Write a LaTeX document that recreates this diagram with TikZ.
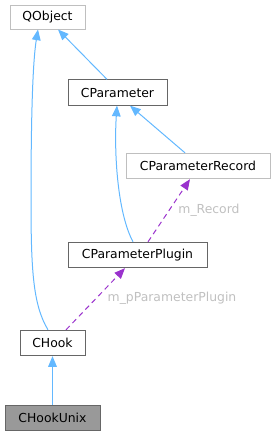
\documentclass[tikz,border=0pt]{standalone}
\usepackage{fontspec}
\setmainfont{DejaVu Sans}
\usetikzlibrary{arrows.meta,calc}
\definecolor{edgeblue}{HTML}{63B8FF}
\definecolor{edgepurple}{HTML}{9A32CD}
\definecolor{lightborder}{HTML}{BFBFBF}
\definecolor{darkborder}{HTML}{666666}
\definecolor{labelgray}{HTML}{C0C0C0}
\definecolor{fillgray}{HTML}{999999}
\begin{document}
\begin{tikzpicture}[x=0.75pt,y=-0.75pt,
  every node/.style={font=\fontsize{9.3}{11}\selectfont},
  cls/.style={draw=darkborder,line width=0.75pt,inner sep=0pt,minimum height=19pt,fill=white},
  extcls/.style={cls,draw=lightborder},
  curcls/.style={cls,fill=fillgray},
  inh/.style={draw=edgeblue,line width=0.75pt,-{Triangle[length=8pt,width=6.5pt]}},
  usage/.style={draw=edgepurple,line width=0.75pt,dashed,dash pattern=on 4pt off 3pt,-{Triangle[length=8pt,width=6.5pt]}},
  lbl/.style={text=labelgray}]
\useasboundingbox (0,0) rectangle (275,436);
\node[extcls,minimum width=56.25pt,minimum height=18pt] (qobject) at (47.5,17) {QObject};
\node[cls,minimum width=74.25pt] (cparam) at (117.5,92.5) {CParameter};
\node[extcls,minimum width=108pt] (crec) at (198,166) {CParameterRecord};
\node[cls,minimum width=104.25pt] (cplug) at (137.5,255) {CParameterPlugin};
\node[cls,minimum width=48.75pt] (chook) at (52.5,343) {CHook};
\node[curcls,minimum width=71.25pt] (chookunix) at (52.5,418) {CHookUnix};
% edges
\draw[inh] ($(cparam.north)+(-10.5,0)$) -- ($(qobject.south)+(10.5,0)$);
\draw[inh] ($(chook.north)+(-4.5,0)$) .. controls (33,305) and (31,270) .. (31,200)
  .. controls (31,110) and (33,60) .. ($(qobject.south)+(-9.5,0)$);
\draw[inh] ($(crec.north)+(-13,0)$) -- ($(cparam.south)+(12.5,0)$);
\draw[inh] ($(cplug.north)+(-4.5,0)$) .. controls (117,212) and (114,150) .. ($(cparam.south)+(-0.5,0)$);
\draw[usage] ($(cplug.north)+(10.5,0)$) -- ($(crec.south)+(-8,0)$);
\draw[usage] ($(chook.north)+(13.5,0)$) -- ($(cplug.south)+(-12.5,0)$);
\draw[inh] (chookunix.north) -- (chook.south);
\node[lbl] (lrec) at (209,210) {m\_Record};
\node[lbl] (lplug) at (172,298) {m\_pParameterPlugin};
\end{tikzpicture}
\end{document}
